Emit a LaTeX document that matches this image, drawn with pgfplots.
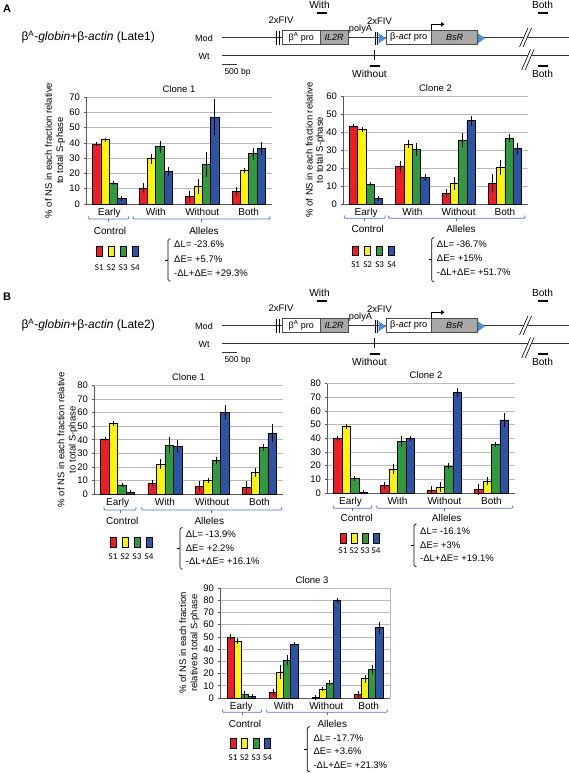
\documentclass[border=0pt]{standalone}
\usepackage{pgfplots}
\pgfplotsset{compat=1.18}
\usepackage{pgfplotstable}
\usepackage{fontspec}
\setmainfont{Liberation Sans}
\newfontfamily\calfont{Carlito}
\usetikzlibrary{arrows.meta}

\definecolor{cS1}{HTML}{EE1D23}
\definecolor{cS2}{HTML}{FFF500}
\definecolor{cS3}{HTML}{2F9A3F}
\definecolor{cS4}{HTML}{2B53A6}
\definecolor{brk}{HTML}{4F74C4}
\definecolor{tri}{HTML}{4A90D9}
\definecolor{boxgray}{HTML}{A8A8A8}

\newcommand{\fs}[1]{\fontsize{#1}{#1}\selectfont}

% ---- data: x, S1..S4 values with errors ----
\pgfplotstableread{
x s1 e1 s2 e2 s3 e3 s4 e4
0 39.2 0 42.0 0 13.8 0 3.6 0
1 10.5 2 29.6 1.8 37.4 2.5 21.5 1.5
2 4.9 2 11.6 3.5 25.8 6.5 56.9 10.5
3 8.2 1.5 21.9 0.4 32.9 2.5 36.3 3
}\tabAone
\pgfplotstableread{
x s1 e1 s2 e2 s3 e3 s4 e4
0 43.3 0 41.3 0 11.1 0 3.1 0
1 20.7 2 33.3 1.2 30.4 2.5 14.6 0.7
2 5.9 1.2 11.5 2.5 35.6 2.5 46.3 1.5
3 11.5 4 20.4 3 36.5 1 30.9 2
}\tabAtwo
\pgfplotstableread{
x s1 e1 s2 e2 s3 e3 s4 e4
0 40.6 0 52.0 0 6.7 0 1.0 0
1 7.9 1 21.9 2.2 35.7 4.5 35.0 3.5
2 5.4 2.5 9.9 0.5 24.6 1 60.3 3.5
3 4.7 3 16.0 1.5 34.5 1 44.8 5
}\tabBone
\pgfplotstableread{
x s1 e1 s2 e2 s3 e3 s4 e4
0 39.9 0 48.5 0 10.5 0 0.7 0
1 5.6 1 17.4 2 37.4 2.5 39.9 0.3
2 2.2 1 4.4 2 19.8 0.8 73.4 1.5
3 2.7 2.5 8.8 1.2 35.5 0.3 53.4 3.5
}\tabBtwo
\pgfplotstableread{
x s1 e1 s2 e2 s3 e3 s4 e4
0 49.4 1 46.6 0.5 2.7 1 1.1 0.2
1 4.4 1 21.3 4 30.8 3 43.6 0.3
2 0.5 0 7.4 0 12.3 0.5 79.9 0.5
3 2.7 1.5 15.8 1.5 23.2 2 57.5 3
}\tabBthree

\pgfplotsset{
  bc/.style={
    scale only axis, anchor=south west,
    ybar, ymin=0, xmin=-0.5, xmax=3.5, enlarge x limits=false,
    xtick={0,1,2,3}, xticklabels={Early,With,Without,Both},
    x tick style={draw=none},
    ytick style={gray!70!black, line width=0.6pt},
    tick align=outside, major tick length=2.5pt,
    axis x line*=bottom, axis y line*=left,
    axis line style={gray!70!black, line width=0.7pt, -},
    ymajorgrids, grid style={gray!55, line width=0.7pt},
    yticklabel style={font=\fs{9.5}},
    /pgf/number format/assume math mode=true,
    xticklabel style={font=\fs{10}, yshift=2pt},
    title style={font=\fs{9.5}, at={(axis description cs:0.5,1)}, anchor=center, yshift=2pt},
    ylabel style={font=\fontsize{9.5}{11.2}\selectfont, align=center, anchor=center},
    clip=false,
    every axis plot/.append style={draw=black, line width=0.7pt},
    error bars/y dir=both, error bars/y explicit,
    error bars/error mark=-,
    error bars/error bar style={black, line width=0.7pt},
    error bars/error mark options={black, line width=0.7pt, mark size=2.2pt},
  }
}

\newcommand{\fourbars}[3]{%
  \addplot[fill=cS1, bar shift=-#2] table[x=x,y=s1,y error=e1]{#1};
  \addplot[fill=cS2, bar shift=-#3] table[x=x,y=s2,y error=e2]{#1};
  \addplot[fill=cS3, bar shift=#3] table[x=x,y=s3,y error=e3]{#1};
  \addplot[fill=cS4, bar shift=#2] table[x=x,y=s4,y error=e4]{#1};
}

% category brackets: y, x1, x2 (early), x3, x4 (alleles), ytext, xc1, xc2
\newcommand{\catbrk}[8]{%
  \draw[brk, line width=0.8pt, rounded corners=1pt] (#2,#1-3) -- (#2,#1) -- (#3,#1) -- (#3,#1-3);
  \draw[brk, line width=0.8pt] ({(#2+#3)/2},#1) -- ({(#2+#3)/2},#1+3);
  \draw[brk, line width=0.8pt, rounded corners=1pt] (#4,#1-3) -- (#4,#1) -- (#5,#1) -- (#5,#1-3);
  \draw[brk, line width=0.8pt] ({(#4+#5)/2},#1) -- ({(#4+#5)/2},#1+3);
  \node[font=\fs{10}] at (#7,#6) {Control};
  \node[font=\fs{10}] at (#8,#6) {Alleles};
}
% legend squares: x0, ytop, ybot, ylabel, step
\newcommand{\sleg}[5]{%
  \foreach \c/\l [count=\i from 0] in {cS1/S1,cS2/S2,cS3/S3,cS4/S4}{%
    \filldraw[fill=\c, draw=black, line width=0.8pt] (#1+\i*#5,#2) rectangle (#1+\i*#5+6,#3);
    \node[font=\calfont\fs{9}] at (#1+\i*#5+3,#4) {\l};
  }
}
\newcommand{\dbrace}[3]{%
  \draw[line width=0.7pt, rounded corners=1.5pt] (#1+2.5,#2) -- (#1,#2) -- (#1,#3) -- (#1+2.5,#3);
  \draw[line width=0.7pt] (#1,{(#2+#3)/2}) -- (#1-3,{(#2+#3)/2});
}
\newcommand{\dtext}[7]{%
  \node[anchor=west, font=\fs{9.5}, inner sep=0pt] at (#1,#2) {ΔL= #5\%};
  \node[anchor=west, font=\fs{9.5}, inner sep=0pt] at (#1,#3) {ΔE= #6\%};
  \node[anchor=west, font=\fs{9.5}, inner sep=0pt] at (#1,#4) {-ΔL+ΔE= #7\%};
}
% construct diagram: y offset, letter, late
\newcommand{\diagram}[3]{%
\begin{scope}[x=1pt,y=-1pt,yshift=-#1pt]
  \node[font=\bfseries\fs{11}] at (7,8.5) {#2};
  \node[anchor=west, font=\fs{12}] at (18,36.7) {β\textsuperscript{A}-\textit{globin}+β-\textit{actin} (#3)};
  \node[font=\fs{9}] at (204,38) {Mod};
  \node[font=\fs{9}] at (204,56) {Wt};
  \draw[line width=0.8pt, black!80] (221.7,37.7) -- (569,37.7);
  \draw[line width=0.8pt, black!80] (221.7,55) -- (569,55);
  \draw[line width=1.5pt, black!80] (221.7,64.3) -- (237.3,64.3);
  \node[font=\fs{8.5}] at (237.5,72.7) {500 bp};
  \draw[line width=0.6pt] (276.5,31) -- (276.5,45) (279,31) -- (279,45);
  \node[font=\fs{9.5}] at (281,20.5) {2xFIV};
  \node[font=\fs{9.5}] at (379.5,20.7) {2xFIV};
  \filldraw[fill=white, draw=black!70, line width=0.6pt] (282.7,30.7) rectangle (320,44.3);
  \filldraw[fill=boxgray, draw=black!70, line width=0.6pt] (320,30.7) rectangle (348.3,44.3);
  \node[font=\fs{9}] at (301.3,37.5) {β\textsuperscript{A} pro};
  \node[font=\itshape\fs{9}] at (334.2,37.5) {IL2R};
  \node[font=\fs{9.2}] at (360.5,29) {polyA};
  \draw[line width=0.6pt] (375.7,31.7) -- (375.7,45) (377.7,31.7) -- (377.7,45);
  \fill[tri] (378.7,33.3) -- (386,38.3) -- (378.7,43.3) -- cycle;
  \filldraw[fill=white, draw=black!70, line width=0.6pt] (386,30.7) rectangle (431.7,44.3);
  \filldraw[fill=boxgray, draw=black!70, line width=0.6pt] (431.7,30.7) rectangle (477.3,44.3);
  \node[font=\fs{9.3}] at (408.8,37.5) {β-\textit{act} pro};
  \node[font=\itshape\fs{9}] at (454.5,37.5) {BsR};
  \draw[line width=1pt, -{Triangle[length=3.5pt,width=4.5pt]}] (431.7,30.7) -- (431.7,24.3) -- (444.5,24.3);
  \fill[tri] (478,33.3) -- (485,38.3) -- (478,43.3) -- cycle;
  \fill[white] (519.5,47) -- (528,28) -- (531.5,28) -- (523,47) -- cycle;
  \draw[line width=0.6pt] (519.5,47) -- (528,28) (523,47) -- (531.5,28);
  \fill[white] (521.7,70) -- (530.5,49.5) -- (534,49.5) -- (525.2,70) -- cycle;
  \draw[line width=0.6pt] (521.7,70) -- (530.5,49.5) (525.2,70) -- (534,49.5);
  \draw[line width=0.8pt] (374.3,49.7) -- (374.3,60.3);
  \draw[line width=2pt] (317,12.7) -- (327,12.7);
  \node[font=\fs{10.2}] at (319.5,4.5) {With};
  \draw[line width=2pt] (538,12.7) -- (548,12.7);
  \node[font=\fs{10.2}] at (542.5,4.5) {Both};
  \draw[line width=2pt] (370,65.7) -- (380,65.7);
  \node[font=\fs{10.2}] at (369.5,74) {Without};
  \draw[line width=2pt] (538,65.7) -- (548,65.7);
  \node[font=\fs{10.2}] at (542.5,74) {Both};
\end{scope}
}

\begin{document}
\begin{tikzpicture}
\useasboundingbox (0,0) rectangle (569pt,-773pt);

\diagram{0}{A}{Late1}
\diagram{288}{B}{Late2}

% ---------- A Clone 1 ----------
\begin{axis}[bc, at={(86pt,-204pt)}, width=186pt, height=107pt, bar width=0.18,
  ymax=70, ytick={0,10,...,70}, title={Clone 1},
  ylabel={\% of NS in each fraction relative\\to total S-phase},
  ylabel style={at={(axis description cs:-0.166,0.5)}}]
\fourbars{\tabAone}{0.27}{0.09}
\end{axis}

% ---------- A Clone 2 ----------
\begin{axis}[bc, at={(343pt,-204pt)}, width=185pt, height=108pt, bar width=0.18,
  ymax=60, ytick={0,10,...,60}, title={Clone 2},
  ylabel={\% of NS in each fraction relative\\to total S-phase},
  ylabel style={at={(axis description cs:-0.15,0.5)}, font=\fontsize{9.5}{10.4}\selectfont}]
\fourbars{\tabAtwo}{0.27}{0.09}
\end{axis}

% ---------- B Clone 1 ----------
\begin{axis}[bc, at={(94pt,-494pt)}, width=189pt, height=108.5pt, bar width=0.18,
  ymax=80, ytick={0,10,...,80}, title={Clone 1},
  ylabel={\% of NS in each fraction relative\\to total S-phase},
  ylabel style={at={(axis description cs:-0.14,0.5)}}]
\fourbars{\tabBone}{0.27}{0.09}
\end{axis}

% ---------- B Clone 2 ----------
\begin{axis}[bc, at={(327pt,-493pt)}, width=188pt, height=109.5pt, bar width=0.18,
  ymax=80, ytick={0,10,...,80}, title={Clone 2},
  title style={xshift=5pt}]
\fourbars{\tabBtwo}{0.27}{0.09}
\end{axis}

% ---------- B Clone 3 ----------
\begin{axis}[bc, at={(220pt,-698pt)}, width=170pt, height=110pt, bar width=0.167,
  ymax=90, ytick={0,10,...,90}, title={Clone 3},
  title style={xshift=7pt},
  ylabel={\% of NS in each fraction\\relativeto total S-phase},
  ylabel style={at={(axis description cs:-0.181,0.5)}}]
\fourbars{\tabBthree}{0.25}{0.0835}
\draw[gray!55, line width=0.7pt] (rel axis cs:1,0) -- (rel axis cs:1,1);
\end{axis}

% ---------- annotations ----------
\begin{scope}[x=1pt,y=-1pt]
  % A clone 1
  \catbrk{219}{88.7}{128.7}{133}{270}{230.7}{110}{204}
  \sleg{96.3}{246.7}{256.7}{267.7}{12}
  \dbrace{168}{239}{281}
  \dtext{174}{244.3}{259}{273.7}{-23.6}{+5.7}{+29.3}
  % A clone 2
  \catbrk{218.3}{344.3}{385.3}{388.3}{525}{229.3}{367.7}{461}
  \sleg{352.7}{246}{255.7}{265}{12}
  \dbrace{431.7}{237.7}{281.7}
  \dtext{436.7}{244}{258.3}{272.7}{-36.7}{+15}{+51.7}
  % B clone 1
  \catbrk{510}{104}{136}{141.7}{281.7}{521}{122.3}{209.3}
  \sleg{110}{537.7}{547.3}{556.7}{12}
  \dbrace{180}{527.7}{569}
  \dtext{185.7}{534}{548.3}{561.7}{-13.9}{+2.2}{+16.1}
  % B clone 2
  \catbrk{508.3}{333.3}{371.7}{376.7}{512.7}{518.3}{356.7}{446.7}
  \sleg{340}{533.3}{543.3}{550.7}{11}
  \dbrace{414}{524}{566.7}
  \dtext{420}{531}{545}{558.3}{-16.1}{+3}{+19.1}
  % B clone 3
  \catbrk{712.3}{222.3}{261.7}{266.7}{387.3}{724.3}{245}{332.3}
  \sleg{230}{738.3}{748.3}{757.7}{11.5}
  \dbrace{307.3}{726.7}{771.7}
  \dtext{313.3}{738.3}{751}{765}{-17.7}{+3.6}{+21.3}
\end{scope}
\end{tikzpicture}
\end{document}
